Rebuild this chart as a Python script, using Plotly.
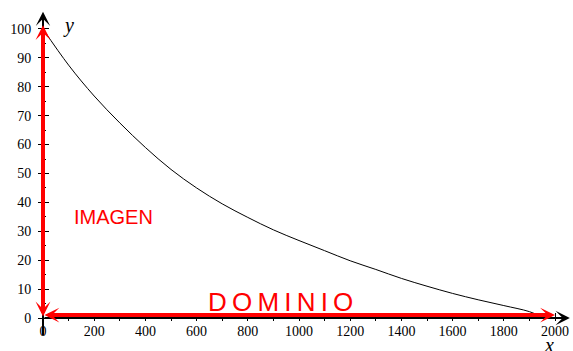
import plotly.graph_objects as go

# Curve values
curve_x = [0, 100, 200, 300, 400, 500, 600, 700, 800, 900, 1000,
           1100, 1200, 1300, 1400, 1500, 1600, 1700, 1800, 1900, 1960]
curve_y = [100, 87.5, 76.8, 67.5, 59.0, 51.4, 45.0, 39.5, 34.8, 30.5, 26.8,
           23.3, 19.8, 16.8, 13.7, 11.0, 8.5, 6.3, 4.3, 2.2, 0]

x_ticks = [0, 200, 400, 600, 800, 1000, 1200, 1400, 1600, 1800, 2000]
x_tick_labels = [str(v) for v in x_ticks]
y_ticks = [0, 10, 20, 30, 40, 50, 60, 70, 80, 90, 100]
y_tick_labels = [str(v) for v in y_ticks]

W, H = 573, 351
x_range = [-43 * 3.90625, 530 * 3.90625]
y_range = [-33 * 0.346, 318 * 0.346]
x_pos = (0 - x_range[0]) / (x_range[1] - x_range[0])
y_pos = (0 - y_range[0]) / (y_range[1] - y_range[0])

serif = "Liberation Serif, Times New Roman, serif"
sans = "Liberation Sans, Arial, sans-serif"

fig = go.Figure()
fig.add_trace(go.Scatter(x=curve_x, y=curve_y, mode="lines", line=dict(color="black", width=1, shape="spline"),
                         hoverinfo="skip", showlegend=False, cliponaxis=False))
fig.add_trace(go.Scatter(x=[0], y=[0], xaxis="x2", yaxis="y2", mode="markers",
                         marker=dict(opacity=0), hoverinfo="skip", showlegend=False))

axis_common = dict(showgrid=False, zeroline=False, showline=False, anchor="free", fixedrange=True,
                   automargin=False)
tick_font = dict(family=serif, size=14, color="black")

fig.update_layout(
    width=W, height=H, autosize=False,
    margin=dict(l=0, r=0, t=0, b=0, pad=0),
    font=dict(family=serif, size=14, color="black"),
    paper_bgcolor="white", plot_bgcolor="white",
    xaxis=dict(range=x_range, position=y_pos, tickmode="array", tickvals=x_ticks, ticktext=x_tick_labels,
               ticks="outside", ticklen=2, tickcolor="black", tickwidth=1,
               tickfont=tick_font, ticklabelstandoff=-2,
               minor=dict(tickvals=list(range(100, 2000, 200)), ticks="outside", ticklen=2, tickcolor="black"),
               **axis_common),
    yaxis=dict(range=y_range, position=x_pos, tickmode="array", tickvals=y_ticks, ticktext=y_tick_labels,
               ticks="outside", ticklen=5, tickcolor="black", tickwidth=1,
               tickfont=tick_font, ticklabelstandoff=4,
               minor=dict(tickvals=list(range(5, 100, 10)), ticks="outside", ticklen=1, tickcolor="black"),
               **axis_common),
    xaxis2=dict(range=x_range, position=y_pos, overlaying="x", tickvals=x_ticks, showticklabels=False,
                ticks="inside", ticklen=5, tickcolor="black", tickwidth=1,
                minor=dict(tickvals=list(range(100, 2000, 200)), ticks="inside", ticklen=2, tickcolor="black"),
                **axis_common),
    yaxis2=dict(range=y_range, position=x_pos, overlaying="y", tickvals=y_ticks, showticklabels=False,
                ticks="inside", ticklen=5, tickcolor="black", tickwidth=1,
                minor=dict(tickvals=list(range(5, 100, 10)), ticks="inside", ticklen=2, tickcolor="black"),
                **axis_common),
)

def arrow(x0, y0, x1, y1, color, width, size, both=False):
    fig.add_annotation(x=x1, y=y1, ax=x0, ay=y0, xref="x", yref="y", axref="x", ayref="y",
                       text="", showarrow=True, arrowhead=3, startarrowhead=3,
                       arrowside="end+start" if both else "end",
                       arrowsize=size, startarrowsize=size, arrowwidth=width, arrowcolor=color,
                       standoff=0, startstandoff=0)

# black axes
arrow(0, 0, 2058, 0, "black", 2, 1.2)
arrow(0, -6.6, 0, 106, "black", 2, 1.2)
# red domain / image arrows
arrow(0, 1.0, 2000, 1.0, "#ff0000", 4, 0.62, both=True)
arrow(0, 0, 0, 101.3, "#ff0000", 4, 0.62, both=True)

fig.add_annotation(x=(68 - 43) * 3.90625, y=(318 - 25) * 0.346, text="<i>y</i>", showarrow=False,
                   font=dict(family=serif, size=20, color="black"))
fig.add_annotation(x=(549 - 43) * 3.90625, y=(318 - 345) * 0.346, text="<i>x</i>", showarrow=False,
                   font=dict(family=serif, size=20, color="black"))
fig.add_annotation(x=(113 - 43) * 3.90625, y=(318 - 217) * 0.346, text="IMAGEN", showarrow=False,
                   font=dict(family=sans, size=20, color="#ff0000"))
fig.add_annotation(x=(280.5 - 43) * 3.90625, y=(318 - 301.5) * 0.346,
                   text="D\u2009O\u2009M\u2009I\u2009N\u2009I\u2009O", showarrow=False,
                   font=dict(family=sans, size=26, color="#ff0000"))

fig.write_html("out.html", config={"displayModeBar": False},
               post_script="document.body.style.margin='0px';document.body.style.overflow='hidden';")
